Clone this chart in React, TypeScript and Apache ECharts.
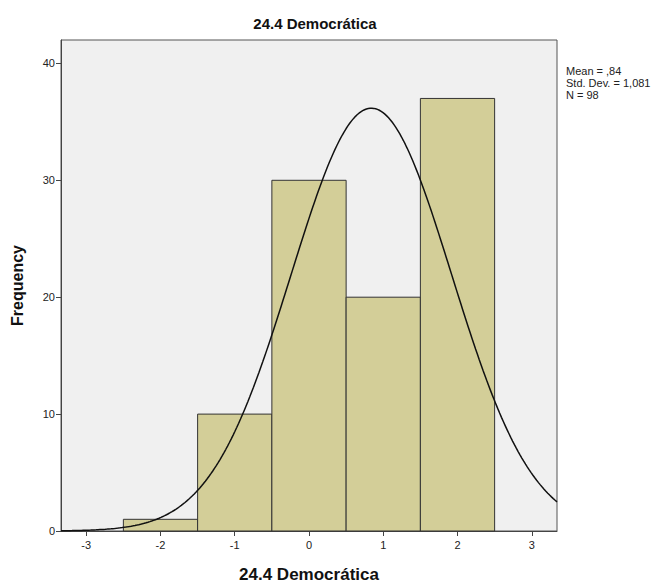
import React, { useEffect, useRef } from "react";
import * as echarts from "echarts";

const TITLE = "24.4 Democrática";
const binStarts = [-2.5, -1.5, -0.5, 0.5, 1.5];
const binEnds = [-1.5, -0.5, 0.5, 1.5, 2.5];
const counts = [1, 10, 30, 20, 37];
const xTicks = [-3, -2, -1, 0, 1, 2, 3];
const yTicks = [0, 10, 20, 30, 40];
const MEAN = 0.84;
const SD = 1.081;
const N = 98;
const statsLines = ["Mean = ,84", "Std. Dev. = 1,081", "N = 98"];

const X_MIN = -3.34;
const X_MAX = 3.34;

function normalCurve(): number[][] {
  const pts: number[][] = [];
  const binWidth = 1;
  for (let i = 0; i <= 268; i++) {
    const x = X_MIN + (i * (X_MAX - X_MIN)) / 268;
    const z = (x - MEAN) / SD;
    const y = (N * binWidth) / (SD * Math.sqrt(2 * Math.PI)) * Math.exp(-0.5 * z * z);
    pts.push([x, y]);
  }
  return pts;
}

export default function App() {
  const ref = useRef<HTMLDivElement>(null);
  useEffect(() => {
    if (!ref.current) return;
    const chart = echarts.init(ref.current, undefined, { renderer: "svg" });
    const barData = counts.map((c, i) => [binStarts[i], binEnds[i], c]);
    const font = "Arial, 'Liberation Sans', sans-serif";
    chart.setOption({
      animation: false,
      backgroundColor: "#ffffff",
      title: {
        text: TITLE,
        left: 310,
        textAlign: "center",
        top: 11,
        textStyle: { fontFamily: font, fontSize: 15, fontWeight: "bold", color: "#111" },
      },
      grid: {
        left: 61,
        top: 40,
        width: 496,
        height: 491,
        show: true,
        backgroundColor: "#F0F0F0",
        borderColor: "#555",
        borderWidth: 1,
        containLabel: false,
        outerBoundsMode: "none",
      },
      xAxis: {
        type: "value",
        min: X_MIN,
        max: X_MAX,
        name: TITLE,
        nameLocation: "middle",
        nameGap: 35,
        nameTextStyle: { fontFamily: font, fontSize: 17, fontWeight: "bold", color: "#111" },
        splitLine: { show: false },
        axisLine: { show: true, onZero: false, lineStyle: { color: "#444", width: 1 } },
        axisTick: { show: true, length: 5, inside: false, customValues: xTicks, lineStyle: { color: "#444" } },
        axisLabel: { customValues: xTicks, fontFamily: font, fontSize: 11, color: "#222", margin: 8 },
      },
      yAxis: {
        type: "value",
        min: 0,
        max: 42,
        name: "Frequency",
        nameLocation: "middle",
        nameGap: 36,
        nameRotate: 90,
        nameTextStyle: { fontFamily: font, fontSize: 16, fontWeight: "bold", color: "#111" },
        splitLine: { show: false },
        axisLine: { show: true, onZero: false, lineStyle: { color: "#444", width: 1 } },
        axisTick: { show: true, length: 5, inside: false, customValues: yTicks, lineStyle: { color: "#444" } },
        axisLabel: { customValues: yTicks, fontFamily: font, fontSize: 11, color: "#222", margin: 6 },
      },
      series: [
        {
          type: "custom",
          data: barData,
          renderItem: (params: any, api: any) => {
            const p0 = api.coord([api.value(0), api.value(2)]);
            const p1 = api.coord([api.value(1), 0]);
            return {
              type: "rect",
              shape: { x: p0[0], y: p0[1], width: p1[0] - p0[0], height: p1[1] - p0[1] },
              style: { fill: "#D3CE98", stroke: "#333", lineWidth: 1 },
            };
          },
          encode: { x: [0, 1], y: 2 },
          z: 2,
        },
        {
          type: "line",
          data: normalCurve(),
          showSymbol: false,
          symbol: "none",
          lineStyle: { color: "#111", width: 1.5 },
          z: 3,
        },
      ],
      graphic: statsLines.map((t, i) => ({
        type: "text",
        left: 566,
        top: 65 + i * 12,
        style: { text: t, font: `11px ${font}`, fill: "#222" },
      })),
    });
    return () => chart.dispose();
  }, []);
  return <div ref={ref} style={{ position: "fixed", left: 0, top: 0, width: 665, height: 583 }} />;
}
